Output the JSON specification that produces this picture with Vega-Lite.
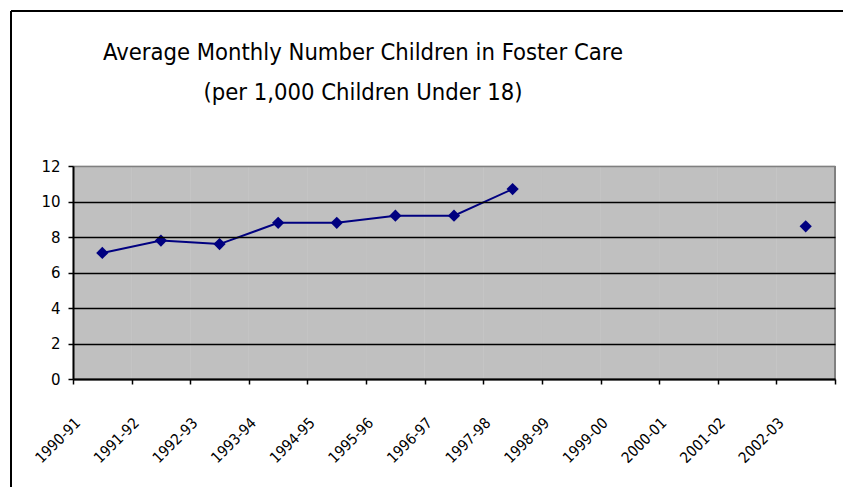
{
  "$schema": "https://vega.github.io/schema/vega-lite/v6.json",
  "width": 832,
  "height": 476,
  "autosize": "none",
  "padding": {"left": 11, "top": 11, "right": 0, "bottom": 0},
  "background": "white",
  "config": {
    "view": {"fill": "white", "stroke": "black", "strokeWidth": 2, "strokeDash": [832, 1308, 476, 0]},
    "font": "DejaVu Sans"
  },
  "title": {
    "text": ["Average Monthly Number Children in Foster Care", "(per 1,000 Children Under 18)"],
    "font": "DejaVu Sans Condensed, Liberation Sans",
    "fontSize": 23.6,
    "fontWeight": "normal",
    "color": "black",
    "lineHeight": 40,
    "frame": "group",
    "anchor": "middle",
    "dx": -64,
    "offset": -94
  },
  "data": {
    "values": [
      {"period": "1990-91", "value": 7.1},
      {"period": "1991-92", "value": 7.8},
      {"period": "1992-93", "value": 7.6},
      {"period": "1993-94", "value": 8.8},
      {"period": "1994-95", "value": 8.8},
      {"period": "1995-96", "value": 9.2},
      {"period": "1996-97", "value": 9.2},
      {"period": "1997-98", "value": 10.7},
      {"period": "1998-99", "value": null},
      {"period": "1999-00", "value": null},
      {"period": "2000-01", "value": null},
      {"period": "2001-02", "value": null},
      {"period": "2002-03", "value": 8.6}
    ]
  },
  "encoding": {
    "x": {
      "field": "period",
      "type": "nominal",
      "sort": null,
      "scale": {"type": "band", "range": [62, 824], "paddingInner": 0, "paddingOuter": 0},
      "axis": {
        "title": null,
        "offset": -108,
        "tickBand": "extent",
        "domainColor": "black",
        "domainWidth": 2,
        "tickColor": "black",
        "tickSize": 5,
        "tickWidth": 1.5,
        "labelAngle": -45,
        "labelAlign": "right",
        "labelBaseline": "middle",
        "labelFont": "DejaVu Sans Condensed, Liberation Sans",
        "labelFontSize": 15,
        "labelColor": "black",
        "labelPadding": 36,
        "labelOffset": -25,
        "grid": false,
        "zindex": 1
      }
    }
  },
  "layer": [
    {
      "mark": {"type": "bar", "color": "#C0C0C0", "stroke": "#C0C0C0", "strokeWidth": 0.5},
      "encoding": {
        "y": {
          "datum": 12,
          "type": "quantitative",
          "scale": {"domain": [0, 12], "range": [368, 155], "nice": false, "zero": true},
          "axis": {
            "title": null,
            "values": [0, 2, 4, 6, 8, 10, 12],
            "offset": -62,
            "grid": true,
            "gridColor": {"condition": {"test": "datum.value === 12", "value": "#808080"}, "value": "black"},
            "gridWidth": 1.5,
            "domainColor": "black",
            "domainWidth": 2,
            "tickColor": "black",
            "tickSize": 5,
            "tickWidth": 1.5,
            "labelFont": "DejaVu Sans",
            "labelFontSize": 15,
            "labelColor": "black",
            "labelPadding": 8,
            "zindex": 1
          }
        },
        "y2": {"datum": 0}
      }
    },
    {
      "mark": {"type": "rule", "color": "#808080", "strokeWidth": 2},
      "encoding": {
        "x": {"datum": "2002-03", "bandPosition": 1},
        "y": {"datum": 0, "type": "quantitative"},
        "y2": {"datum": 12}
      }
    },
    {
      "mark": {"type": "line", "color": "#000080", "strokeWidth": 2, "invalid": "break-paths-show-domains"},
      "encoding": {"y": {"field": "value", "type": "quantitative"}}
    },
    {
      "mark": {"type": "point", "shape": "diamond", "filled": true, "size": 150, "color": "#000080", "opacity": 1},
      "encoding": {"y": {"field": "value", "type": "quantitative"}}
    }
  ]
}
